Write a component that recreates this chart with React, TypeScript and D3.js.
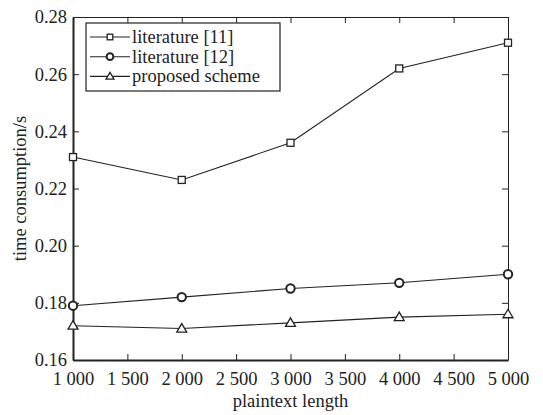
import React, { useEffect, useRef } from 'react';
import * as d3 from 'd3';

const lengths = [1000, 2000, 3000, 4000, 5000];
const lit11 = [0.231, 0.223, 0.236, 0.262, 0.271];
const lit12 = [0.179, 0.182, 0.185, 0.187, 0.19];
const proposed = [0.172, 0.171, 0.173, 0.175, 0.176];
const seriesNames = ['literature [11]', 'literature [12]', 'proposed scheme'];
const xTicks = [1000, 1500, 2000, 2500, 3000, 3500, 4000, 4500, 5000];
const yTicks = [0.16, 0.18, 0.2, 0.22, 0.24, 0.26, 0.28];

const App: React.FC = () => {
  const svgRef = useRef<SVGSVGElement | null>(null);

  useEffect(() => {
    if (!svgRef.current) return;
    const svg = d3.select(svgRef.current);
    svg.selectAll('*').remove();

    const left = 73, right = 508, top = 17, bottom = 360;
    const font = '"Liberation Serif", "Times New Roman", serif';
    const fs = 18.5;
    const ink = '#222';

    const x = d3.scaleLinear().domain([1000, 5000]).range([left, right]);
    const y = d3.scaleLinear().domain([0.16, 0.28]).range([bottom, top]);

    const loc = d3.formatLocale({ decimal: '.', thousands: ' ', grouping: [3], currency: ['', ''] });
    const fx = loc.format(',d');
    const fy = d3.format('.2f');

    const tk = 6;

    // bottom axis + top ticks
    const gx = svg.append('g').attr('transform', `translate(0,${bottom})`)
      .call(d3.axisBottom(x).tickValues(xTicks).tickFormat(d => fx(d as number)).tickSizeInner(-tk).tickSizeOuter(0).tickPadding(12));
    gx.select('.domain').attr('stroke', ink).attr('stroke-width', 2);
    gx.selectAll('.tick line').attr('stroke', ink);
    gx.selectAll('text').attr('font-family', font).attr('font-size', fs).attr('fill', ink);

    const gxt = svg.append('g').attr('transform', `translate(0,${top})`)
      .call(d3.axisTop(x).tickValues(xTicks).tickFormat(() => '').tickSizeInner(-tk).tickSizeOuter(0));
    gxt.select('.domain').attr('stroke', ink).attr('stroke-width', 1);
    gxt.selectAll('.tick line').attr('stroke', ink);

    // left axis + right ticks
    const gy = svg.append('g').attr('transform', `translate(${left},0)`)
      .call(d3.axisLeft(y).tickValues(yTicks).tickFormat(d => fy(d as number)).tickSizeInner(-tk).tickSizeOuter(0).tickPadding(6));
    gy.select('.domain').attr('stroke', ink).attr('stroke-width', 2);
    gy.selectAll('.tick line').attr('stroke', ink);
    gy.selectAll('text').attr('font-family', font).attr('font-size', fs).attr('fill', ink);

    const gyr = svg.append('g').attr('transform', `translate(${right},0)`)
      .call(d3.axisRight(y).tickValues(yTicks).tickFormat(() => '').tickSizeInner(-tk).tickSizeOuter(0));
    gyr.select('.domain').attr('stroke', ink).attr('stroke-width', 1);
    gyr.selectAll('.tick line').attr('stroke', ink);

    // axis titles
    svg.append('text')
      .attr('x', (left + right) / 2).attr('y', 407)
      .attr('text-anchor', 'middle').attr('font-family', font).attr('font-size', fs).attr('fill', ink)
      .text('plaintext length');
    svg.append('text')
      .attr('transform', `translate(26,${(top + bottom) / 2}) rotate(-90)`)
      .attr('text-anchor', 'middle').attr('font-family', font).attr('font-size', fs).attr('fill', ink)
      .text('time consumption/s');

    const line = d3.line<number>().x((_, i) => x(lengths[i])).y(d => y(d));
    const data = [lit11, lit12, proposed];
    const markers = ['square', 'circle', 'triangle'];

    const drawMarker = (g: any, kind: string, cx: number, cy: number, k = 1) => {
      if (kind === 'square') {
        const s = 3.5 * k;
        g.append('rect').attr('x', cx - s).attr('y', cy - s).attr('width', 2 * s).attr('height', 2 * s)
          .attr('fill', 'white').attr('stroke', ink).attr('stroke-width', 1.3);
      } else if (kind === 'circle') {
        g.append('circle').attr('cx', cx).attr('cy', cy).attr('r', 4.2 * k)
          .attr('fill', 'white').attr('stroke', ink).attr('stroke-width', 2);
      } else {
        const s = 5 * k;
        g.append('path')
          .attr('d', `M${cx},${cy - s}L${cx + s},${cy + s * 0.7}L${cx - s},${cy + s * 0.7}Z`)
          .attr('fill', 'white').attr('stroke', ink).attr('stroke-width', 1.3);
      }
    };

    data.forEach((vals, si) => {
      svg.append('path').datum(vals).attr('d', line).attr('fill', 'none').attr('stroke', ink).attr('stroke-width', 1.1);
      const g = svg.append('g');
      vals.forEach((v, i) => drawMarker(g, markers[si], x(lengths[i]), y(v)));
    });

    // legend
    const lg = svg.append('g');
    lg.append('rect').attr('x', 86).attr('y', 23).attr('width', 194).attr('height', 68)
      .attr('fill', 'white').attr('stroke', ink).attr('stroke-width', 1.2);
    seriesNames.forEach((name, i) => {
      const cy = 37 + i * 19.7;
      lg.append('line').attr('x1', 90).attr('x2', 130).attr('y1', cy).attr('y2', cy).attr('stroke', ink).attr('stroke-width', 1.1);
      drawMarker(lg, markers[i], 110, cy, 0.8);
      lg.append('text').attr('x', 132).attr('y', cy + 6)
        .attr('font-family', font).attr('font-size', fs).attr('fill', ink).text(name);
    });
  }, []);

  return <svg ref={svgRef} width={543} height={415} style={{ position: 'absolute', left: 0, top: 0 }} />;
};

export default App;
